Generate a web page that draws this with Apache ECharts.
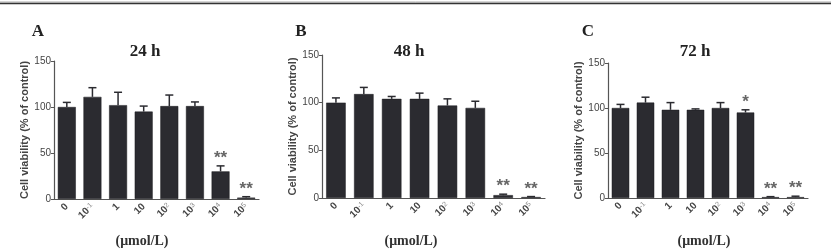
<!DOCTYPE html>
<html><head><meta charset="utf-8">
<script src="https://cdn.jsdelivr.net/npm/echarts@6/dist/echarts.min.js"></script>
<style>html,body{margin:0;padding:0;background:#fff}#c{width:831px;height:250px}</style>
</head><body><div id="c"></div>
<script>
var categories = ['0', '10^-1', '1', '10', '10^2', '10^3', '10^4', '10^5'];
var yTicks = [0, 50, 100, 150];
var panelLetters = ['A', 'B', 'C'];
var panelTitles = ['24 h', '48 h', '72 h'];
var meanA = [100, 111, 102, 95, 101, 101, 30, 1.5];
var errA  = [5, 10, 14, 6, 12, 4.5, 6, 1];
var sigA  = ['', '', '', '', '', '', '**', '**'];
var meanB = [100, 109, 104, 104, 97, 94.5, 3, 1];
var errB  = [5, 7, 2.5, 6, 7, 7, 1, 0.5];
var sigB  = ['', '', '', '', '', '', '**', '**'];
var meanC = [100, 106, 98, 98, 100, 95, 1, 1];
var errC  = [4, 6, 8, 1, 6, 3, 0.5, 1];
var sigC  = ['', '', '', '', '', '*', '**', '**'];

var means = [meanA, meanB, meanC];
var errs = [errA, errB, errC];
var sigs = [sigA, sigB, sigC];

var grids = [
  {left: 54, width: 205, top: 61, height: 138},
  {left: 322, width: 223, top: 55, height: 143},
  {left: 608, width: 200, top: 63, height: 135}
];
var titleX = [145, 409, 695];
var letterX = [38, 301, 588];
var unitX = [142, 411, 704];

function fmt(v) {
  var p = v.split('^');
  return p.length > 1 ? '{b|' + p[0] + '}{s|' + p[1] + '}' : '{b|' + v + '}';
}

var chart = echarts.init(document.getElementById('c'), null, {renderer: 'canvas'});
var option = {
  backgroundColor: '#fff',
  animation: false,
  grid: grids,
  xAxis: [], yAxis: [], series: [],
  graphic: [
    {type: 'line', shape: {x1: 0, y1: 2, x2: 831, y2: 2}, style: {stroke: '#aaa', lineWidth: 1}},
    {type: 'line', shape: {x1: 0, y1: 3.5, x2: 831, y2: 3.5}, style: {stroke: '#333', lineWidth: 1.5}}
  ]
};
for (var k = 0; k < 3; k++) {
  option.xAxis.push({
    gridIndex: k, type: 'category', data: categories,
    axisLine: {lineStyle: {color: '#555', width: 1.2}},
    axisTick: {alignWithLabel: true, length: 3, lineStyle: {color: '#555'}},
    axisLabel: {
      rotate: 45, margin: 6, interval: 0,
      formatter: fmt,
      rich: {
        b: {fontFamily: 'Liberation Sans', fontSize: 10, color: '#444', fontWeight: 'bold'},
        s: {fontFamily: 'Liberation Sans', fontSize: 7, color: '#888', verticalAlign: 'top', lineHeight: 8}
      }
    }
  });
  option.yAxis.push({
    gridIndex: k, type: 'value', min: 0, max: 150, interval: 50,
    splitLine: {show: false},
    axisLine: {show: true, lineStyle: {color: '#555', width: 1.2}},
    axisTick: {show: true, length: 3, lineStyle: {color: '#555'}},
    axisLabel: {fontFamily: 'Liberation Sans', fontSize: 10, color: '#444', margin: 3,
      formatter: function (v) { return yTicks.indexOf(v) >= 0 ? String(v) : ''; }},
    name: 'Cell viability (% of control)', nameLocation: 'middle', nameGap: 24,
    nameTextStyle: {fontFamily: 'Liberation Sans', fontSize: 11, color: '#444', fontWeight: 'bold'}
  });
  option.series.push({
    type: 'bar', xAxisIndex: k, yAxisIndex: k, data: means[k],
    barWidth: '70%', itemStyle: {color: '#2b2b30', borderColor: '#1a1a1e', borderWidth: 0.5}
  });
  (function (kk) {
    var d = means[kk].map(function (m, i) { return [i, m, errs[kk][i], sigs[kk][i]]; });
    option.series.push({
      type: 'custom', xAxisIndex: kk, yAxisIndex: kk, data: d, z: 5,
      renderItem: function (params, api) {
        var i = api.value(0), m = api.value(1), e = api.value(2);
        var s = d[params.dataIndex][3];
        var p0 = api.coord([i, m]);
        var p1 = api.coord([i, m + e]);
        var ch = [
          {type: 'line', shape: {x1: p0[0], y1: p0[1], x2: p1[0], y2: p1[1]}, style: {stroke: '#2b2b30', lineWidth: 1.5}},
          {type: 'line', shape: {x1: p1[0] - 4, y1: p1[1], x2: p1[0] + 4, y2: p1[1]}, style: {stroke: '#2b2b30', lineWidth: 1.5}}
        ];
        if (s) {
          ch.push({type: 'text', x: p1[0], y: p1[1] + 1,
            style: {text: s, fill: '#666', font: 'bold 17px "Liberation Sans"', textAlign: 'center', textVerticalAlign: 'bottom'}});
        }
        return {type: 'group', children: ch};
      }
    });
  })(k);
  option.graphic.push({type: 'text', x: letterX[k], y: 32,
    style: {text: panelLetters[k], font: 'bold 17px "Liberation Serif"', fill: '#222', textAlign: 'center', textVerticalAlign: 'middle'}});
  option.graphic.push({type: 'text', x: titleX[k], y: 52,
    style: {text: panelTitles[k], font: 'bold 17px "Liberation Serif"', fill: '#222', textAlign: 'center', textVerticalAlign: 'middle'}});
  option.graphic.push({type: 'text', x: unitX[k], y: 241,
    style: {text: '(μmol/L)', font: 'bold 14px "Liberation Serif"', fill: '#333', textAlign: 'center', textVerticalAlign: 'middle'}});
}
chart.setOption(option);
</script></body></html>
